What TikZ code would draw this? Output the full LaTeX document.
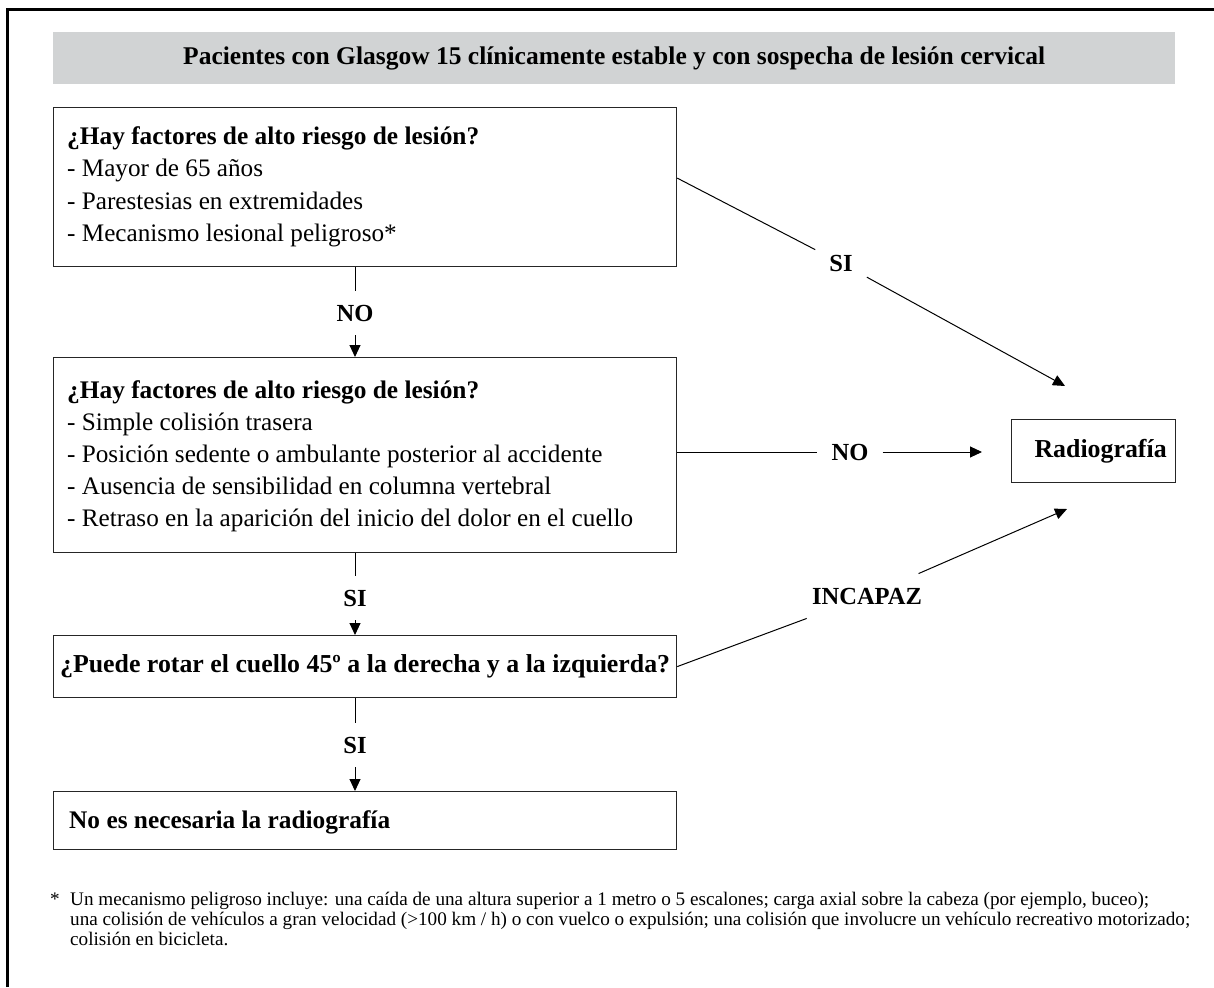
\documentclass[tikz,border=0pt]{standalone}
\usepackage{fontspec}
\setmainfont{Liberation Serif}
\usetikzlibrary{arrows.meta}
\definecolor{hdrgray}{HTML}{D1D3D4}
\newlength\fitmw
\newcommand\fitsize[3]{%
  \settowidth\fitmw{\fontsize{10}{12}\selectfont #3}%
  \pgfmathsetmacro#1{10*#2/\fitmw}}
\begin{document}
\fitsize\titlesz{862}{\bfseries Pacientes con Glasgow 15 clínicamente estable y con sospecha de lesión cervical}%
\fitsize\bodysz{566}{- Retraso en la aparición del inicio del dolor en el cuello}%
\fitsize\hdsz{412}{\bfseries ¿Hay factores de alto riesgo de lesión?}%
\fitsize\boldsz{610}{\bfseries ¿Puede rotar el cuello 45º a la derecha y a la izquierda?}%
\fitsize\lblsz{110}{\bfseries INCAPAZ}%
\fitsize\footsz{1120}{una colisión de vehículos a gran velocidad (>100 km / h) o con vuelco o expulsión; una colisión que involucre un vehículo recreativo motorizado;}%
\begin{tikzpicture}[x=1pt,y=-1pt,
  box/.style={draw=black!85, line width=1.2pt, anchor=north west, inner sep=0pt},
  lbl/.style={font=\fontsize{\lblsz}{20}\selectfont\bfseries, inner sep=14pt},
  conn/.style={line width=1pt},
  arr/.style={conn, -{Triangle[length=12pt,width=11pt]}},
  txt/.style={anchor=base west, inner sep=0pt, font=\fontsize{\bodysz}{32}\selectfont},
  hdtxt/.style={txt, font=\fontsize{\hdsz}{32}\selectfont\bfseries},
  boldf/.style={font=\fontsize{\boldsz}{32}\selectfont\bfseries},
  footf/.style={font=\fontsize{\footsz}{19}\selectfont, inner sep=0pt, anchor=base west}]
\useasboundingbox (0,0) rectangle (1214,987);
% frame (top and left edges)
\draw[line width=3pt] (7.5,987) -- (7.5,10) -- (1214,10);
% header
\node[fill=hdrgray, minimum width=1122pt, minimum height=52pt, anchor=north west, inner sep=0pt,
      font=\fontsize{\titlesz}{24}\selectfont\bfseries] (hd) at (53,32)
  {Pacientes con Glasgow 15 clínicamente estable y con sospecha de lesión cervical};
% box 1
\node[box, minimum width=623pt, minimum height=159pt] (b1) at (53,107) {};
\node[hdtxt] (b1t0) at (67,145) {¿Hay factores de alto riesgo de lesión?};
\node[txt] (b1t1) at (67,177) {- Mayor de 65 años};
\node[txt] (b1t2) at (67,209) {- Parestesias en extremidades};
\node[txt] (b1t3) at (67,241) {- Mecanismo lesional peligroso*};
% box 2
\node[box, minimum width=623pt, minimum height=195pt] (b2) at (53,357) {};
\node[hdtxt] (b2t0) at (67,398) {¿Hay factores de alto riesgo de lesión?};
\node[txt] (b2t1) at (67,430) {- Simple colisión trasera};
\node[txt] (b2t2) at (67,462) {- Posición sedente o ambulante posterior al accidente};
\node[txt] (b2t3) at (67,494) {- Ausencia de sensibilidad en columna vertebral};
\node[txt] (b2t4) at (67,526) {- Retraso en la aparición del inicio del dolor en el cuello};
% box 3
\node[box, boldf, minimum width=623pt, minimum height=62pt] (b3) at (53,635)
  {¿Puede rotar el cuello 45º a la derecha y a la izquierda?};
% box 4
\node[box, minimum width=623pt, minimum height=58pt] (b4) at (53,791) {};
\node[hdtxt] (b4t) at (69,828) {No es necesaria la radiografía};
% Radiografia
\node[box, boldf, minimum width=164pt, minimum height=63pt] (rad) at (1011,419)
  {\hspace*{14pt}Radiografía};
% labels
\node[lbl] (n1) at (355,313) {NO};
\node[lbl] (s2) at (355,598) {SI};
\node[lbl] (s3) at (355,745) {SI};
\node[lbl] (n2) at (850,452) {NO};
\node[lbl] (s1) at (841,263) {SI};
\node[lbl] (inc) at (867,596) {INCAPAZ};
\coordinate (tA) at (1065,386);
\coordinate (tB) at (1067,509);
% connectors
\draw[conn] (b1.south -| n1) -- (n1);
\draw[arr] (n1) -- (b2.north -| n1);
\draw[conn] (b2.south -| s2) -- (s2);
\draw[arr] (s2) -- (b3.north -| s2);
\draw[conn] (b3.south -| s3) -- (s3);
\draw[arr] (s3) -- (b4.north -| s3);
\draw[conn] (b2.east |- n2) -- (n2);
\draw[arr, shorten >=29pt] (n2) -- (rad.west |- n2);
\draw[conn] ([yshift=9pt]b1.east) -- (s1);
\draw[arr] (s1) -- (tA);
\draw[conn] (b3.east) -- (inc);
\draw[arr] (inc) -- (tB);
% footnote
\node[footf] (ast) at (50,905) {*};
\node[footf] (fn1) at (70,905) {Un mecanismo peligroso incluye: una caída de una altura superior a 1 metro o 5 escalones; carga axial sobre la cabeza (por ejemplo, buceo);};
\node[footf] (fn2) at (70,925) {una colisión de vehículos a gran velocidad (>100 km / h) o con vuelco o expulsión; una colisión que involucre un vehículo recreativo motorizado;};
\node[footf] (fn3) at (70,945) {colisión en bicicleta.};
\end{tikzpicture}
\end{document}
